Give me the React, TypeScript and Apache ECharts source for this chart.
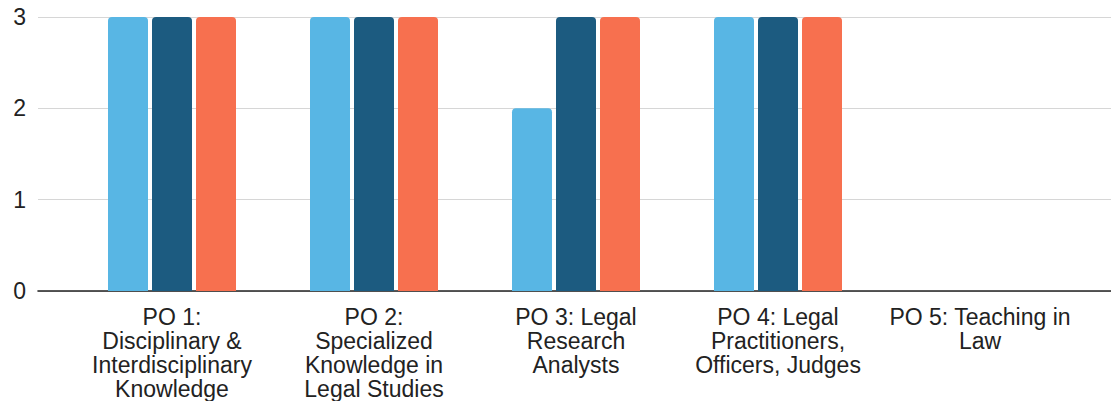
import React, { useEffect, useRef } from "react";
import * as echarts from "echarts";

const categories = [
  "PO 1:\nDisciplinary &\nInterdisciplinary\nKnowledge",
  "PO 2:\nSpecialized\nKnowledge in\nLegal Studies",
  "PO 3: Legal\nResearch\nAnalysts",
  "PO 4: Legal\nPractitioners,\nOfficers, Judges",
  "PO 5: Teaching in\nLaw",
];
const seriesNames = ["Series 1", "Series 2", "Series 3"];
const series1 = [3, 3, 2, 3, 0];
const series2 = [3, 3, 3, 3, 0];
const series3 = [3, 3, 3, 3, 0];
const yTicks = [0, 1, 2, 3];

const colors = ["#58b6e4", "#1c5b80", "#f7704f"];

export default function App() {
  const ref = useRef<HTMLDivElement>(null);
  useEffect(() => {
    if (!ref.current) return;
    const chart = echarts.init(ref.current, null, { renderer: "svg" });
    const font = "'Liberation Sans', Arial, sans-serif";
    const values = [series1, series2, series3];
    chart.setOption({
      animation: false,
      backgroundColor: "#ffffff",
      grid: [
        { left: 38, right: 0, top: 17, bottom: 110, containLabel: false },
        { left: 71, right: 30, top: 17, bottom: 110, containLabel: false },
      ],
      xAxis: [
        {
          gridIndex: 0,
          type: "value",
          min: 0,
          max: 1,
          axisLine: { show: true, lineStyle: { color: "#222", width: 1.6 } },
          axisTick: { show: false },
          axisLabel: { show: false },
          splitLine: { show: false },
        },
        {
          gridIndex: 1,
          type: "category",
          data: categories,
          axisLine: { show: false },
          axisTick: { show: false },
          axisLabel: {
            interval: 0,
            margin: 14,
            fontFamily: font,
            fontSize: 23,
            lineHeight: 24,
            color: "#222",
            align: "center",
            verticalAlign: "top",
          },
        },
      ],
      yAxis: [
        {
          gridIndex: 0,
          type: "value",
          min: yTicks[0],
          max: yTicks[yTicks.length - 1],
          interval: 1,
          axisLine: { show: false },
          axisTick: { show: false },
          axisLabel: {
            margin: 12,
            fontFamily: font,
            fontSize: 23,
            color: "#222",
          },
          splitLine: { show: true, lineStyle: { color: "#d6d6d6", width: 1 } },
        },
        {
          gridIndex: 1,
          type: "value",
          min: yTicks[0],
          max: yTicks[yTicks.length - 1],
          interval: 1,
          show: false,
        },
      ],
      series: seriesNames.map((name, i) => ({
        name,
        type: "bar",
        xAxisIndex: 1,
        yAxisIndex: 1,
        data: values[i],
        barWidth: 40,
        barGap: "10%",
        itemStyle: { color: colors[i], borderRadius: [4, 4, 0, 0] },
      })),
    });
    return () => chart.dispose();
  }, []);
  return (
    <div
      ref={ref}
      style={{ position: "fixed", left: 0, top: 0, width: 1111, height: 401 }}
    />
  );
}
